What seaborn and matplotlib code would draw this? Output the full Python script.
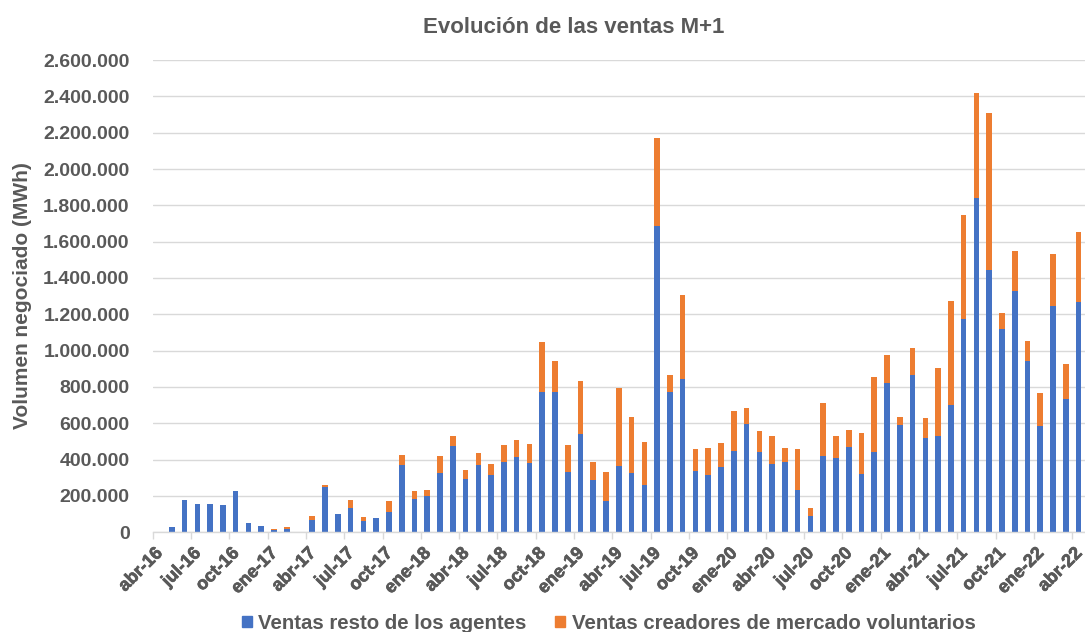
import numpy as np
import pandas as pd
import matplotlib
matplotlib.use("Agg")
import matplotlib.pyplot as plt
import matplotlib.transforms as mtransforms
import matplotlib.patheffects as pe
import seaborn as sns
from matplotlib.patches import Patch
from matplotlib.ticker import FuncFormatter, FixedLocator

# meses abr-16 .. abr-22
abrev = ['ene', 'feb', 'mar', 'abr', 'may', 'jun', 'jul', 'ago', 'sep', 'oct', 'nov', 'dic']
fechas = pd.date_range('2016-04-01', '2022-04-01', freq='MS')
meses = [f"{abrev[d.month - 1]}-{d.year % 100:02d}" for d in fechas]

# miles de MWh
resto = [0, 27, 178, 158, 156, 149, 228, 51, 35, 13, 20, 1, 68, 251, 101, 132, 64, 77, 114, 369,
         182, 202, 328, 477, 294, 372, 317, 387, 417, 384, 771, 774, 330, 543, 286, 171, 367, 325,
         259, 1688, 771, 842, 339, 314, 361, 450, 598, 444, 378, 389, 235, 92, 422, 411, 470, 319,
         444, 820, 591, 866, 521, 532, 703, 1176, 1842, 1442, 1118, 1330, 945, 587, 1248, 736, 1270]
creadores = [0, 0, 0, 0, 0, 0, 0, 0, 0, 4, 9, 3, 22, 9, 0, 46, 20, 0, 58, 57,
             46, 31, 92, 53, 47, 67, 59, 94, 89, 104, 277, 167, 151, 288, 101, 161, 426, 310,
             238, 481, 95, 464, 120, 152, 129, 216, 88, 116, 152, 73, 224, 42, 290, 119, 91, 230,
             409, 158, 42, 149, 107, 374, 569, 569, 578, 865, 88, 221, 110, 180, 286, 189, 381]

df = pd.DataFrame({'mes': meses,
                   'resto': np.array(resto) * 1000,
                   'creadores': np.array(creadores) * 1000})
df['total'] = df['resto'] + df['creadores']

azul = '#4472C4'
naranja = '#ED7D31'
gris = '#595959'

sns.set_theme(style='white')
plt.rcParams['font.family'] = ['Liberation Sans', 'DejaVu Sans']
plt.rcParams['font.weight'] = 'bold'

fig = plt.figure(figsize=(10.85, 6.32), dpi=100)
ax = fig.add_axes([0.1407, 0.1578, 0.8593, 0.7472])

sns.barplot(data=df, x='mes', y='total', color=naranja, width=0.44, saturation=1,
            edgecolor='none', ax=ax)
sns.barplot(data=df, x='mes', y='resto', color=azul, width=0.44, saturation=1,
            edgecolor='none', ax=ax)

ax.set_xlim(-0.5, len(meses) - 0.5)
ax.set_ylim(0, 2600000)
ax.yaxis.set_major_locator(FixedLocator(np.arange(0, 2600001, 200000)))
ax.yaxis.set_major_formatter(FuncFormatter(lambda v, p: f"{int(v):,}".replace(',', '.')))
ax.grid(axis='y', color='#D9D9D9', linewidth=1)
ax.set_axisbelow(True)

pos = list(range(0, len(meses), 3))
ax.set_xticks(pos)
ax.set_xticklabels([meses[i] for i in pos], rotation=45, ha='right', rotation_mode='anchor')
ax.set_xticks([i - 0.5 for i in pos], minor=True)
ax.tick_params(axis='x', which='major', length=0, pad=9)
ax.tick_params(axis='x', which='minor', length=5, color='#D9D9D9', width=1, bottom=True)
ax.tick_params(axis='y', length=0, pad=16.5, labelsize=14, labelcolor=gris)
desplazar = mtransforms.ScaledTranslation(-5 / 100, 0, fig.dpi_scale_trans)
for lab in ax.get_xticklabels():
    lab.set_fontsize(13)
    lab.set_fontweight('bold')
    lab.set_color(gris)
    lab.set_transform(lab.get_transform() + desplazar)
    lab.set_path_effects([pe.withStroke(linewidth=0.5, foreground=gris)])
for lab in ax.get_yticklabels():
    lab.set_fontweight('bold')

for s in ['top', 'right', 'left']:
    ax.spines[s].set_visible(False)
ax.spines['bottom'].set_color('#D9D9D9')
ax.spines['bottom'].set_linewidth(1)

ax.set_xlabel('')
ax.set_ylabel('Volumen negociado (MWh)', fontsize=15, fontweight='bold', color=gris)
ax.yaxis.set_label_coords(-0.1295, 0.502)

fig.text(0.5286, 0.957, 'Evolución de las ventas M+1', ha='center', va='center',
         fontsize=16, fontweight='bold', color=gris)

handles = [Patch(color=azul, label='Ventas resto de los agentes'),
           Patch(color=naranja, label='Ventas creadores de mercado voluntarios')]
fig.legend(handles=handles, loc='center', bbox_to_anchor=(0.561, 0.014), ncol=2, frameon=False,
           handlelength=0.5, handleheight=0.5, handletextpad=0.3, columnspacing=1.4,
           prop={'size': 14.7, 'weight': 'bold'}, labelcolor=gris)

fig.savefig('out.png', dpi=100)
